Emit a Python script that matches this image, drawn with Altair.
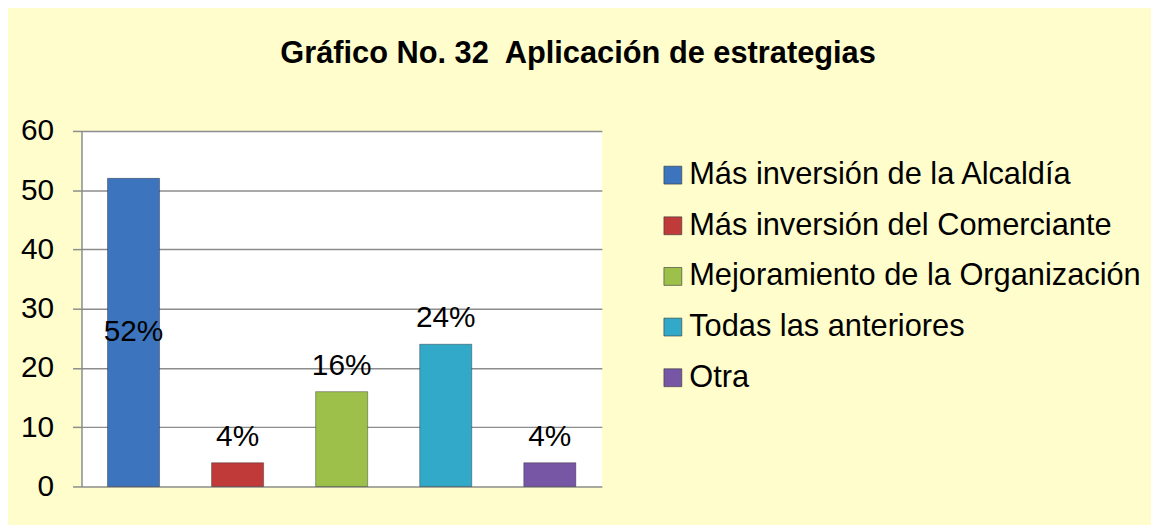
import altair as alt
import pandas as pd

categories = [
    "Más inversión de la Alcaldía",
    "Más inversión del Comerciante",
    "Mejoramiento de la Organización",
    "Todas las anteriores",
    "Otra",
]
values = [52, 4, 16, 24, 4]
labels = ["52%", "4%", "16%", "24%", "4%"]
colors = ["#3C74BD", "#C03A3A", "#9DC04A", "#33A9C9", "#7756A6"]
y_ticks = [0, 10, 20, 30, 40, 50, 60]

df = pd.DataFrame({"cat": categories, "value": values, "label": labels})

FONT = "Liberation Sans"

x = alt.X("cat:N", sort=categories, axis=None,
          scale=alt.Scale(paddingInner=0.5, paddingOuter=0.25))

base = alt.Chart(df)

bars = base.mark_bar(stroke="#222222", strokeOpacity=0.4, strokeWidth=1).encode(
    x=x,
    y=alt.Y("value:Q", scale=alt.Scale(domain=[0, 60], nice=False),
            axis=alt.Axis(values=y_ticks, title=None, grid=True,
                          gridColor="#8C8C8C", gridWidth=1.5,
                          domainColor="#8C8C8C", domainWidth=1.5,
                          tickColor="#8C8C8C", tickWidth=1.5, tickSize=9,
                          labelFontSize=30, labelFont=FONT, labelColor="black",
                          labelPadding=19)),
    color=alt.Color("cat:N", sort=categories,
                    scale=alt.Scale(domain=categories, range=colors),
                    legend=alt.Legend(title=None, orient="none",
                                      legendX=580, legendY=29,
                                      symbolType="square", symbolSize=324,
                                      symbolStrokeColor="#333333", symbolStrokeWidth=0.6,
                                      labelFontSize=31, labelFont=FONT,
                                      labelColor="black", labelOffset=1,
                                      rowPadding=19, labelLimit=700)),
)

label_mid = base.transform_filter("datum.value > 40").transform_calculate(
    mid="datum.value / 2"
).mark_text(fontSize=30, font=FONT, color="black", baseline="middle").encode(
    x=x, y=alt.Y("mid:Q"), text="label:N"
)

label_top = base.transform_filter("datum.value <= 40").mark_text(
    fontSize=30, font=FONT, color="black", baseline="middle", dy=-26
).encode(x=x, y=alt.Y("value:Q"), text="label:N")

chart = alt.layer(bars, label_mid, label_top).properties(
    width=524,
    height=358,
    autosize=alt.AutoSizeParams(type="none"),
    padding={"left": 74, "top": 122, "right": 553, "bottom": 37},
    title=alt.Title("Gráfico No. 32\u00a0 Aplicación de estrategias",
                    fontSize=31, fontWeight="bold", font=FONT, color="black",
                    anchor="middle", dx=238, offset=46),
).configure(
    background="#FFFDCC",
).configure_view(
    fill="white", strokeWidth=0,
)

chart.save("out.html", embed_options={"renderer": "svg", "actions": False})
